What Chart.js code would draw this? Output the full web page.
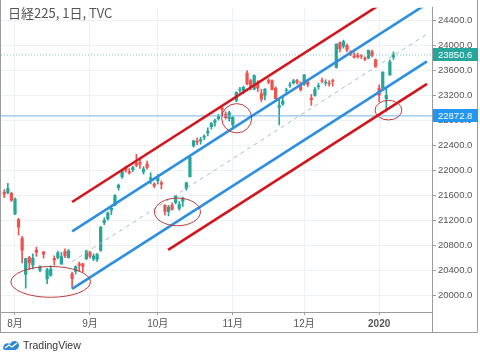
<!DOCTYPE html>
<html>
<head>
<meta charset="utf-8">
<script src="https://cdn.jsdelivr.net/npm/chart.js@4/dist/chart.umd.min.js"></script>
<style>
    html, body { margin: 0; padding: 0; background: #fff; }
    #wrap { position: relative; width: 480px; height: 352px; overflow: hidden; }
    #title { position: absolute; left: 8px; top: 4px; font: 13px "Noto Sans CJK JP", sans-serif; color: #555; line-height: 18px; }
    #logo { position: absolute; left: 2px; top: 338px; height: 13px; display: flex; align-items: center;
            font: 10.5px "Liberation Sans", sans-serif; color: #333; }
    #logo svg { margin-right: 3px; }
</style>
</head>
<body>
<div id="wrap">
    <canvas id="chart" width="480" height="352"></canvas>
    <div id="title">日経225, 1日, TVC</div>
    <div id="logo">
        <svg width="18" height="12" viewBox="0 0 18 12">
            <path d="M1 10 C1 5 5 3 8 5 C10 1 16 1 17 6 C17 9 15 11 12 11 L3 11 Z" fill="#2e86d6"/>
            <path d="M3 9 L7 6 L10 8 L15 4" stroke="#fff" stroke-width="1.4" fill="none"/>
        </svg>TradingView
    </div>
</div>
<script>
// trading days, 2019-07-29 .. 2020-01-10
const dates = [
    "2019-07-29", "2019-07-30", "2019-07-31",
    "2019-08-01", "2019-08-02", "2019-08-05", "2019-08-06", "2019-08-07", "2019-08-08", "2019-08-09",
    "2019-08-13", "2019-08-14", "2019-08-15", "2019-08-16", "2019-08-19", "2019-08-20", "2019-08-21",
    "2019-08-22", "2019-08-23", "2019-08-26", "2019-08-27", "2019-08-28", "2019-08-29", "2019-08-30",
    "2019-09-02", "2019-09-03", "2019-09-04", "2019-09-05", "2019-09-06", "2019-09-09", "2019-09-10",
    "2019-09-11", "2019-09-12", "2019-09-13", "2019-09-17", "2019-09-18", "2019-09-19", "2019-09-20",
    "2019-09-24", "2019-09-25", "2019-09-26", "2019-09-27", "2019-09-30",
    "2019-10-01", "2019-10-02", "2019-10-03", "2019-10-04", "2019-10-07", "2019-10-08", "2019-10-09",
    "2019-10-10", "2019-10-11", "2019-10-15", "2019-10-16", "2019-10-17", "2019-10-18", "2019-10-21",
    "2019-10-23", "2019-10-24", "2019-10-25", "2019-10-28", "2019-10-29", "2019-10-30", "2019-10-31",
    "2019-11-01", "2019-11-05", "2019-11-06", "2019-11-07", "2019-11-08", "2019-11-11", "2019-11-12",
    "2019-11-13", "2019-11-14", "2019-11-15", "2019-11-18", "2019-11-19", "2019-11-20", "2019-11-21",
    "2019-11-22", "2019-11-25", "2019-11-26", "2019-11-27", "2019-11-28", "2019-11-29",
    "2019-12-02", "2019-12-03", "2019-12-04", "2019-12-05", "2019-12-06", "2019-12-09", "2019-12-10",
    "2019-12-11", "2019-12-12", "2019-12-13", "2019-12-16", "2019-12-17", "2019-12-18", "2019-12-19",
    "2019-12-20", "2019-12-23", "2019-12-24", "2019-12-25", "2019-12-26", "2019-12-27", "2019-12-30",
    "2020-01-06", "2020-01-07", "2020-01-08", "2020-01-09", "2020-01-10",
];

const opens = [
    21650, 21640, 21630, 21300, 21210, 20910, 20330, 20600, 20480, 20720,
    20400, 20690, 20260, 20320, 20590, 20600, 20500, 20700, 20600, 20340,
    20380, 20500, 20500, 20580, 20680, 20580, 20570, 20720, 21160, 21220,
    21360, 21440, 21720, 21900, 22050, 21980, 22010, 22110, 22130, 21980,
    22100, 21860, 21780, 21830, 21800, 21440, 21340, 21440, 21480, 21390,
    21500, 21710, 21900, 22390, 22470, 22470, 22530, 22600, 22700, 22770,
    22830, 23000, 22900, 22830, 22730, 23120, 23290, 23280, 23560, 23440,
    23300, 23400, 23230, 23200, 23440, 23440, 23320, 23010, 23060, 23280,
    23360, 23400, 23440, 23390, 23380, 23410, 23160, 23200, 23340, 23440,
    23400, 23400, 23440, 23650, 24050, 23990, 24000, 23900, 23830, 23850,
    23840, 23800, 23800, 23900, 23770, 23320, 23320, 23150, 23530, 23820,
];
const highs = [
    21690, 21790, 21650, 21560, 21230, 20940, 20590, 20620, 20660, 20770,
    20470, 20700, 20430, 20470, 20630, 20700, 20680, 20740, 20730, 20370,
    20470, 20530, 20510, 20720, 20700, 20660, 20670, 21100, 21240, 21330,
    21420, 21610, 21780, 22000, 22070, 22030, 22070, 22255, 22180, 22060,
    22150, 21960, 21800, 21930, 21830, 21450, 21440, 21480, 21600, 21500,
    21570, 21810, 22220, 22480, 22520, 22530, 22570, 22680, 22770, 22820,
    22900, 23010, 22940, 22950, 22860, 23260, 23330, 23350, 23600, 23460,
    23530, 23440, 23300, 23310, 23470, 23450, 23340, 23150, 23170, 23320,
    23410, 23460, 23460, 23420, 23540, 23450, 23220, 23330, 23400, 23480,
    23450, 23440, 23460, 24030, 24060, 24090, 24030, 23920, 23890, 23880,
    23860, 23820, 23930, 23930, 23790, 23370, 23580, 23310, 23770, 23900,
];
const lows = [
    21560, 21620, 21500, 21290, 20960, 20514, 20110, 20405, 20420, 20620,
    20370, 20590, 20184, 20300, 20480, 20580, 20490, 20600, 20590, 20110,
    20340, 20380, 20370, 20570, 20590, 20550, 20540, 20700, 21130, 21200,
    21290, 21430, 21680, 21870, 21970, 21940, 21980, 22060, 22030, 21940,
    22020, 21780, 21720, 21780, 21700, 21280, 21270, 21360, 21460, 21360,
    21420, 21680, 21890, 22370, 22410, 22420, 22490, 22550, 22660, 22710,
    22810, 22880, 22820, 22790, 22700, 23100, 23250, 23230, 23370, 23290,
    23290, 23260, 23100, 23130, 23390, 23290, 23140, 22730, 23040, 23230,
    23330, 23380, 23380, 23270, 23360, 23340, 23040, 23190, 23300, 23400,
    23360, 23350, 23350, 23640, 23900, 23960, 23900, 23840, 23800, 23800,
    23790, 23760, 23790, 23820, 23650, 23100, 23300, 22950, 23520, 23780,
];
const closes = [
    21616, 21709, 21521, 21540, 21087, 20720, 20585, 20516, 20593, 20684,
    20455, 20655, 20405, 20418, 20563, 20677, 20618, 20628, 20710, 20261,
    20456, 20479, 20460, 20704, 20620, 20625, 20649, 21085, 21199, 21318,
    21392, 21597, 21759, 21988, 22001, 21960, 22044, 22079, 22098, 22020,
    22048, 21878, 21755, 21885, 21778, 21341, 21410, 21375, 21587, 21456,
    21551, 21798, 22207, 22472, 22451, 22492, 22548, 22625, 22750, 22799,
    22867, 22974, 22843, 22927, 22850, 23251, 23303, 23330, 23391, 23331,
    23520, 23319, 23141, 23303, 23416, 23292, 23148, 23038, 23112, 23292,
    23373, 23437, 23409, 23293, 23529, 23379, 23135, 23300, 23354, 23430,
    23410, 23391, 23424, 24023, 23952, 24066, 23934, 23864, 23816, 23821,
    23830, 23782, 23924, 23837, 23656, 23204, 23575, 23204, 23739, 23850.6,
];

const yTicks = [20000, 20400, 20800, 21200, 21600, 22000, 22400, 22800, 23200, 23600, 24000, 24400];

// drawn channels: [bar index, price] at each end
const redUpper = [[19, 21492], [118.4, 25142]];
const blueUpper = [[19, 21022], [118.4, 24672]];
const midDashed = [[19, 20536], [118.4, 24186]];
const blueLower = [[19, 20098], [118.4, 23748]];
const redLower = [[45.9, 20725], [118.4, 23387]];

const lastPrice = 23850.6;
const levelPrice = 22872.8;

// ellipses: [centre index, centre price, radius in bars, radius in price]
const circles = [
    [13.0, 20211, 11.15, 247],
    [48.5, 21333, 6.44, 222],
    [65.1, 22835, 4.2, 235],
    [107.6, 22965, 3.74, 157],
];

const xMin = -0.92;
const xMax = 119.8;

const UP = "#26a69a";
const DOWN = "#ef5350";

const monthTicks = [];
const monthLabels = [];
dates.forEach((d, i) => {
    if (i > 0 && d.slice(5, 7) !== dates[i - 1].slice(5, 7)) {
        monthTicks.push(i);
        monthLabels.push(d.slice(5, 7) === "01" ? d.slice(0, 4) : Number(d.slice(5, 7)) + "月");
    }
});

const candleColors = closes.map((c, i) => (c >= opens[i] ? UP : DOWN));
const toPoints = seg => seg.map(p => ({ x: p[0], y: p[1] }));

function lineSet(seg, color, width, dash) {
    return {
        type: "line",
        data: toPoints(seg),
        borderColor: color,
        borderWidth: width,
        borderDash: dash || [],
        pointRadius: 0,
        tension: 0,
        order: 0,
    };
}

const font = { family: "'Liberation Sans', 'Noto Sans CJK JP', sans-serif", size: 9.5 };

const extras = {
    id: "extras",
    afterDatasetsDraw(chart) {
        const { ctx, chartArea: a, scales: { x, y } } = chart;
        ctx.save();
        ctx.beginPath();
        ctx.rect(a.left, a.top, a.right - a.left, a.bottom - a.top);
        ctx.clip();
        ctx.strokeStyle = "#c0393b";
        ctx.lineWidth = 1;
        circles.forEach(c => {
            const cx = x.getPixelForValue(c[0]);
            const cy = y.getPixelForValue(c[1]);
            const rx = Math.abs(x.getPixelForValue(c[0] + c[2]) - cx);
            const ry = Math.abs(y.getPixelForValue(c[1] + c[3]) - cy);
            ctx.beginPath();
            ctx.ellipse(cx, cy, rx, ry, 0, 0, Math.PI * 2);
            ctx.stroke();
        });
        ctx.restore();
    },
    afterDraw(chart) {
        const { ctx, chartArea: a, scales: { y } } = chart;
        ctx.save();
        // frame
        ctx.strokeStyle = "#9c9c9c";
        ctx.lineWidth = 1;
        ctx.beginPath();
        ctx.moveTo(0.5, 0); ctx.lineTo(0.5, 332.5);
        ctx.moveTo(0, 332.5); ctx.lineTo(477.5, 332.5);
        ctx.moveTo(477.5, 0); ctx.lineTo(477.5, 332.5);
        ctx.moveTo(a.right + 0.5, a.bottom); ctx.lineTo(a.right + 0.5, 332.5);
        ctx.stroke();
        // price labels
        [[lastPrice, UP], [levelPrice, "#2196f3"]].forEach(([v, col]) => {
            const py = y.getPixelForValue(v);
            ctx.fillStyle = col;
            ctx.fillRect(a.right + 1, Math.round(py - 6.5), 45, 13);
            ctx.fillStyle = "#fff";
            ctx.font = "9.5px 'Liberation Sans', sans-serif";
            ctx.textBaseline = "middle";
            ctx.fillText(v.toFixed(1), a.right + 6, py + 0.5);
        });
        ctx.restore();
    },
};

new Chart(document.getElementById("chart"), {
    type: "bar",
    data: {
        datasets: [
            lineSet(redUpper, "#d3161c", 2.6),
            lineSet(blueUpper, "#2d8fe0", 2.6),
            lineSet(midDashed, "#9fbfcc", 1, [4, 4]),
            lineSet(blueLower, "#2d8fe0", 2.6),
            lineSet(redLower, "#d3161c", 2.6),
            lineSet([[xMin, lastPrice], [xMax, lastPrice]], "#7cc8bd", 1, [1, 2]),
            lineSet([[xMin, levelPrice], [xMax, levelPrice]], "#74b6e6", 1),
            {
                type: "bar",
                data: dates.map((d, i) => ({ x: i, y: [opens[i], closes[i]] })),
                backgroundColor: candleColors,
                barThickness: 2.6,
                grouped: false,
                order: 5,
            },
            {
                type: "bar",
                data: dates.map((d, i) => ({ x: i, y: [lows[i], highs[i]] })),
                backgroundColor: candleColors,
                barThickness: 1,
                grouped: false,
                order: 6,
            },
        ],
    },
    options: {
        responsive: false,
        animation: false,
        devicePixelRatio: 1,
        layout: { padding: { left: 1, right: 0, top: 0, bottom: 20 } },
        plugins: { legend: { display: false }, tooltip: { enabled: false } },
        scales: {
            x: {
                type: "linear",
                min: xMin,
                max: xMax,
                offset: false,
                afterBuildTicks: s => { s.ticks = monthTicks.map(v => ({ value: v })); },
                afterFit: s => { s.height = 20; },
                grid: { color: "#eef1f5", tickColor: "#9c9c9c", tickLength: 3, offset: false },
                border: { color: "#9c9c9c" },
                ticks: {
                    color: "#555",
                    padding: 3,
                    maxRotation: 0,
                    autoSkip: false,
                    font: ctx => ({ ...font, size: 10, weight: ctx.tick && ctx.tick.value === monthTicks[monthTicks.length - 1] ? "bold" : "normal" }),
                    callback: v => monthLabels[monthTicks.indexOf(v)],
                },
            },
            y: {
                position: "right",
                min: 19728,
                max: 24608,
                afterBuildTicks: s => { s.ticks = yTicks.map(v => ({ value: v })); },
                afterFit: s => { s.width = 48; },
                grid: { color: "#eef1f5", tickColor: "#9c9c9c", tickLength: 4 },
                border: { color: "#9c9c9c" },
                ticks: {
                    color: "#555",
                    padding: 2,
                    font: font,
                    callback: v => v.toFixed(1),
                },
            },
        },
    },
    plugins: [extras],
});
</script>
</body>
</html>
